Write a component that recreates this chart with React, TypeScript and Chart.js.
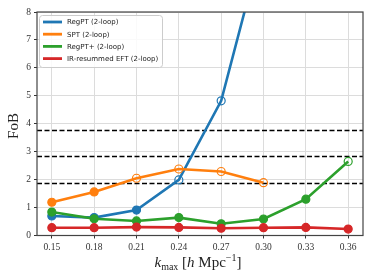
import React, { useEffect, useRef } from "react";
import { Chart, registerables } from "chart.js";

Chart.register(...registerables);

const kmax = [0.15, 0.18, 0.21, 0.24, 0.27, 0.3, 0.33, 0.36];
const seriesLabels = [
  "RegPT (2-loop)",
  "SPT (2-loop)",
  "RegPT+ (2-loop)",
  "IR-resummed EFT (2-loop)",
];
const regpt = [0.7, 0.64, 0.91, 1.99, 4.82, 10.6, null, null];
const spt = [1.19, 1.56, 2.05, 2.38, 2.29, 1.89, null, null];
const regptPlus = [0.84, 0.6, 0.52, 0.64, 0.42, 0.59, 1.3, 2.65];
const irEft = [0.28, 0.28, 0.3, 0.29, 0.26, 0.28, 0.29, 0.23];
const regptOpen = [false, false, false, true, true, true, false, false];
const sptOpen = [false, false, true, true, true, true, false, false];
const regptPlusOpen = [false, false, false, false, false, false, false, true];
const irEftOpen = [false, false, false, false, false, false, false, false];
const thresholds = [1.89, 2.83, 3.76];
const yTicks = [0, 1, 2, 3, 4, 5, 6, 7, 8];

const colors = ["#1f77b4", "#ff7f0e", "#2ca02c", "#d62728"];
const SERIF = "'Liberation Serif', 'DejaVu Serif', serif";
const SANS = "'DejaVu Sans', sans-serif";

function makeDataset(i: number, vals: (number | null)[], open: boolean[], order: number) {
  const c = colors[i];
  return {
    label: seriesLabels[i],
    data: kmax.map((k, j) => ({ x: k, y: vals[j] })),
    borderColor: c,
    backgroundColor: c,
    borderWidth: 2.6,
    pointRadius: 4,
    pointBorderWidth: 1.2,
    pointBorderColor: c,
    pointBackgroundColor: open.map((o) => (o ? "rgba(0,0,0,0)" : c)),
    spanGaps: false,
    order,
  };
}

const decorPlugin = {
  id: "decor",
  beforeDatasetsDraw(chart: any) {
    const { ctx, chartArea, scales } = chart;
    ctx.save();
    ctx.strokeStyle = "#000";
    ctx.lineWidth = 1.4;
    ctx.setLineDash([5, 2.5]);
    thresholds.forEach((t) => {
      const y = Math.round(scales.y.getPixelForValue(t)) + 0.5;
      ctx.beginPath();
      ctx.moveTo(chartArea.left, y);
      ctx.lineTo(chartArea.right, y);
      ctx.stroke();
    });
    ctx.restore();
  },
  afterDraw(chart: any) {
    const { ctx, chartArea } = chart;
    ctx.save();
    // frame
    ctx.strokeStyle = "#444";
    ctx.lineWidth = 1.2;
    ctx.strokeRect(chartArea.left, chartArea.top, chartArea.right - chartArea.left, chartArea.bottom - chartArea.top);

    // legend
    const lx = 39, ly = 15, lw = 123, lh = 52;
    ctx.fillStyle = "rgba(255,255,255,0.85)";
    ctx.strokeStyle = "#cccccc";
    ctx.lineWidth = 1;
    ctx.beginPath();
    (ctx as any).roundRect(lx + 0.5, ly + 0.5, lw, lh, 3);
    ctx.fill();
    ctx.stroke();
    ctx.font = `7px ${SANS}`;
    ctx.textBaseline = "middle";
    ctx.textAlign = "left";
    seriesLabels.forEach((lab, i) => {
      const y = ly + 7 + i * 12.2;
      ctx.strokeStyle = colors[i];
      ctx.lineWidth = 2.8;
      ctx.beginPath();
      ctx.moveTo(43, y);
      ctx.lineTo(62, y);
      ctx.stroke();
      ctx.fillStyle = "#222";
      ctx.fillText(lab, 67, y + 0.5);
    });

    // y title
    ctx.fillStyle = "#222";
    ctx.save();
    ctx.translate(18, 126);
    ctx.rotate(-Math.PI / 2);
    ctx.font = `15px ${SERIF}`;
    ctx.textAlign = "center";
    ctx.textBaseline = "alphabetic";
    ctx.fillText("FoB", 0, 0);
    ctx.restore();

    // x title
    const parts: { t: string; f: string; dy: number }[] = [
      { t: "k", f: `italic 15px ${SERIF}`, dy: 0 },
      { t: "max", f: `10px ${SERIF}`, dy: 3 },
      { t: " [", f: `15px ${SERIF}`, dy: 0 },
      { t: "h", f: `italic 15px ${SERIF}`, dy: 0 },
      { t: " Mpc", f: `15px ${SERIF}`, dy: 0 },
      { t: "\u22121", f: `10px ${SERIF}`, dy: -6 },
      { t: "]", f: `15px ${SERIF}`, dy: 0 },
    ];
    ctx.textAlign = "left";
    ctx.textBaseline = "alphabetic";
    let total = 0;
    const widths = parts.map((p) => {
      ctx.font = p.f;
      const w = ctx.measureText(p.t).width;
      total += w;
      return w;
    });
    let x = 198 - total / 2;
    parts.forEach((p, i) => {
      ctx.font = p.f;
      ctx.fillText(p.t, x, 267 + p.dy);
      x += widths[i];
    });
    ctx.restore();
  },
};

export default function App() {
  const ref = useRef<HTMLCanvasElement | null>(null);
  useEffect(() => {
    if (!ref.current) return;
    const chart = new Chart(ref.current, {
      type: "line",
      data: {
        datasets: [
          makeDataset(0, regpt, regptOpen, 4),
          makeDataset(1, spt, sptOpen, 3),
          makeDataset(2, regptPlus, regptPlusOpen, 2),
          makeDataset(3, irEft, irEftOpen, 1),
        ] as any,
      },
      options: {
        animation: false,
        responsive: false,
        maintainAspectRatio: false,
        layout: { padding: { left: 0, right: 11, top: 12, bottom: 0 } },
        plugins: { legend: { display: false }, tooltip: { enabled: false } },
        scales: {
          x: {
            type: "linear",
            min: 0.1395,
            max: 0.3705,
            afterBuildTicks: (s: any) => {
              s.ticks = kmax.map((v) => ({ value: v }));
            },
            afterFit: (s: any) => {
              s.height = 44.5;
            },
            ticks: {
              autoSkip: false,
              maxRotation: 0,
              padding: 3,
              color: "#333",
              font: { family: SERIF, size: 9.5 },
              callback: (v: any) => Number(v).toFixed(2),
            },
            grid: { color: "#dcdcdc", lineWidth: 1, tickLength: 3, tickColor: "#333" },
            border: { display: false },
          },
          y: {
            type: "linear",
            min: 0,
            max: 8,
            afterBuildTicks: (s: any) => {
              s.ticks = yTicks.map((v) => ({ value: v }));
            },
            afterFit: (s: any) => {
              s.width = 37;
            },
            ticks: {
              padding: 3,
              color: "#333",
              font: { family: SERIF, size: 9.5 },
              callback: (v: any) => String(v),
            },
            grid: { color: "#dcdcdc", lineWidth: 1, tickLength: 3, tickColor: "#333" },
            border: { display: false },
          },
        },
      } as any,
      plugins: [decorPlugin],
    });
    return () => chart.destroy();
  }, []);
  return (
    <div style={{ position: "fixed", left: 0, top: 0, width: 374, height: 280, background: "#fff" }}>
      <canvas ref={ref} width={374} height={280} />
    </div>
  );
}
